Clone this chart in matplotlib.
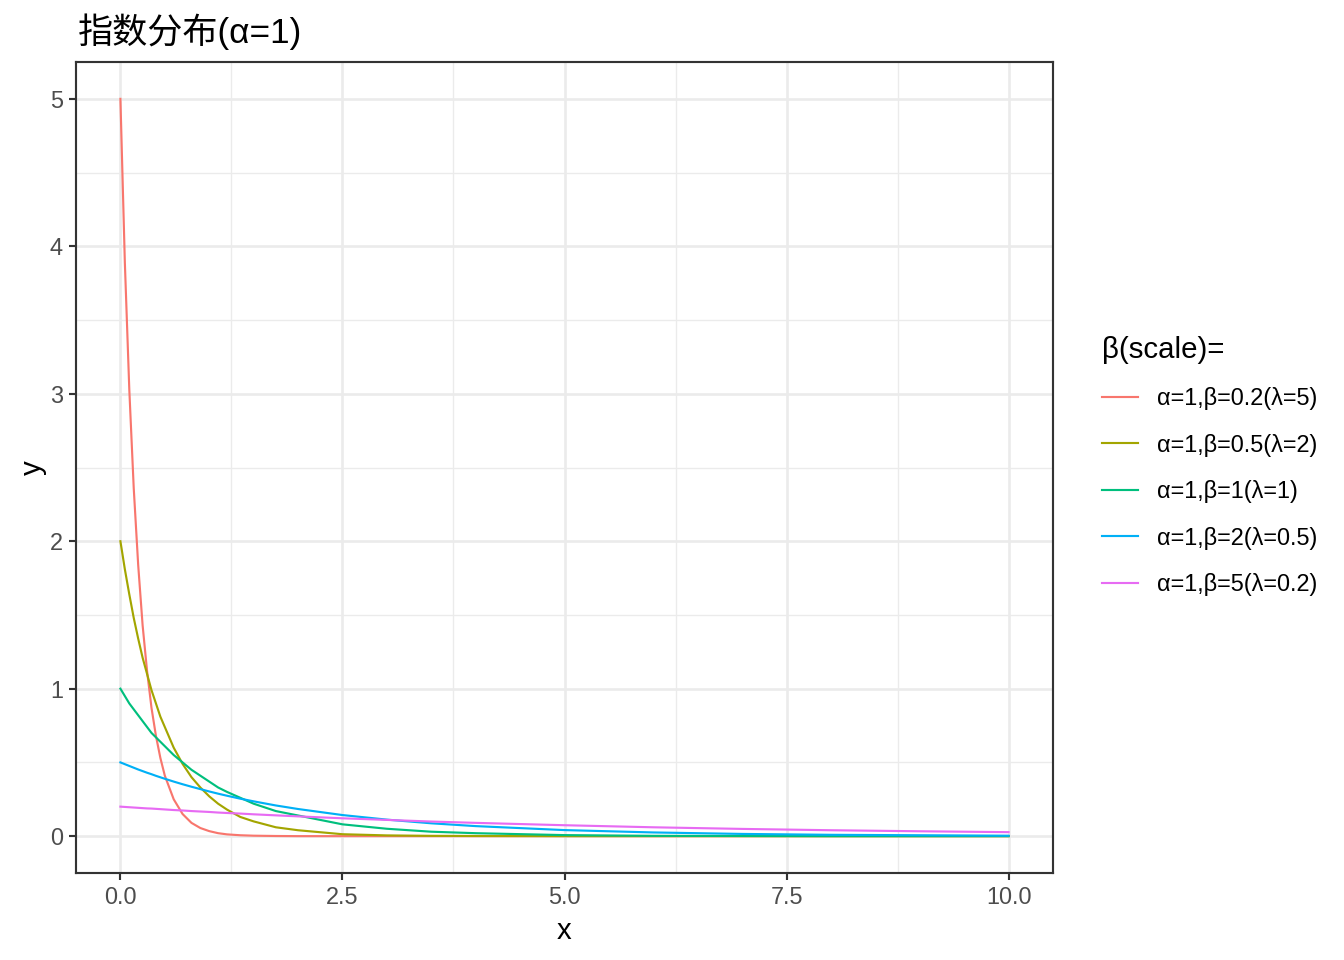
import matplotlib
matplotlib.use("Agg")
import matplotlib.pyplot as plt

plt.rcParams['font.family'] = ['Liberation Sans', 'Noto Sans CJK SC', 'DejaVu Sans']

# values
x = [0, 0.05, 0.1, 0.15, 0.2, 0.25, 0.3, 0.35, 0.4, 0.45, 0.5,
     0.6, 0.7, 0.8, 0.9, 1.0, 1.1, 1.2, 1.35, 1.5, 1.75,
     2.0, 2.5, 3.0, 3.5, 4.0, 5.0, 6.0, 7.0, 8.0, 9.0, 10.0]
y_b02 = [5.00, 3.89, 3.03, 2.36, 1.84, 1.43, 1.12, 0.87, 0.68, 0.53, 0.41,
         0.25, 0.15, 0.09, 0.055, 0.034, 0.02, 0.012, 0.006, 0.003, 0.001,
         0.0, 0.0, 0.0, 0.0, 0.0, 0.0, 0.0, 0.0, 0.0, 0.0, 0.0]
y_b05 = [2.00, 1.81, 1.64, 1.48, 1.34, 1.21, 1.10, 0.99, 0.90, 0.81, 0.74,
         0.60, 0.49, 0.40, 0.33, 0.27, 0.22, 0.18, 0.13, 0.10, 0.06,
         0.04, 0.013, 0.005, 0.002, 0.001, 0.0, 0.0, 0.0, 0.0, 0.0, 0.0]
y_b1 = [1.00, 0.95, 0.90, 0.86, 0.82, 0.78, 0.74, 0.70, 0.67, 0.64, 0.61,
        0.55, 0.50, 0.45, 0.41, 0.37, 0.33, 0.30, 0.26, 0.22, 0.17,
        0.14, 0.08, 0.05, 0.03, 0.02, 0.007, 0.002, 0.001, 0.0, 0.0, 0.0]
y_b2 = [0.500, 0.488, 0.476, 0.464, 0.452, 0.441, 0.430, 0.420, 0.409, 0.399, 0.389,
        0.370, 0.352, 0.335, 0.319, 0.303, 0.288, 0.274, 0.254, 0.236, 0.208,
        0.184, 0.143, 0.112, 0.087, 0.068, 0.041, 0.025, 0.015, 0.009, 0.006, 0.003]
y_b5 = [0.200, 0.198, 0.196, 0.194, 0.192, 0.190, 0.188, 0.187, 0.185, 0.183, 0.181,
        0.177, 0.174, 0.170, 0.167, 0.164, 0.160, 0.157, 0.153, 0.148, 0.141,
        0.134, 0.121, 0.110, 0.099, 0.090, 0.074, 0.060, 0.049, 0.040, 0.033, 0.027]

labels = ["α=1,β=0.2(λ=5)", "α=1,β=0.5(λ=2)", "α=1,β=1(λ=1)",
          "α=1,β=2(λ=0.5)", "α=1,β=5(λ=0.2)"]
series = [y_b02, y_b05, y_b1, y_b2, y_b5]
colors = ["#F8766D", "#A3A500", "#00BF7D", "#00B0F6", "#E76BF3"]

fig = plt.figure(figsize=(7, 5), dpi=192)
ax = fig.add_axes([76 / 1344, 1 - 873 / 960, (1053 - 76) / 1344, (873 - 62) / 960])

for ys, c, lab in zip(series, colors, labels):
    ax.plot(x, ys, color=c, lw=0.8, label=lab)

ax.set_xlim(-0.5, 10.5)
ax.set_ylim(-0.25, 5.25)
ax.set_xticks([0, 2.5, 5, 7.5, 10])
ax.set_xticklabels(["0.0", "2.5", "5.0", "7.5", "10.0"])
ax.set_yticks([0, 1, 2, 3, 4, 5])
ax.set_xticks([1.25, 3.75, 6.25, 8.75], minor=True)
ax.set_yticks([0.5, 1.5, 2.5, 3.5, 4.5], minor=True)
ax.grid(which='major', color='#EBEBEB', lw=1.0)
ax.grid(which='minor', color='#EBEBEB', lw=0.5)
ax.set_axisbelow(True)
ax.tick_params(which='major', length=2.75, width=0.8, color='#333333',
               labelsize=8.8, labelcolor='#4D4D4D', pad=2.2)
ax.tick_params(which='minor', length=0)
for s in ax.spines.values():
    s.set_color('#333333')
    s.set_linewidth(0.8)

ax.set_xlabel("x", fontsize=11, labelpad=3)
ax.set_ylabel("y", fontsize=11, labelpad=1)
ax.set_title("指数分布(α=1)", loc='left', fontsize=13.2, pad=7,
             x=(78 - 76) / (1053 - 76))

leg = fig.legend(loc='upper left', bbox_to_anchor=(1090 / 1344, 1 - 324 / 960),
                 title="β(scale)=", fontsize=8.8, title_fontsize=11, frameon=False,
                 handlelength=1.55, handletextpad=0.8, labelspacing=1.0,
                 borderpad=0, alignment='left')

fig.savefig("out.png", dpi=192)
